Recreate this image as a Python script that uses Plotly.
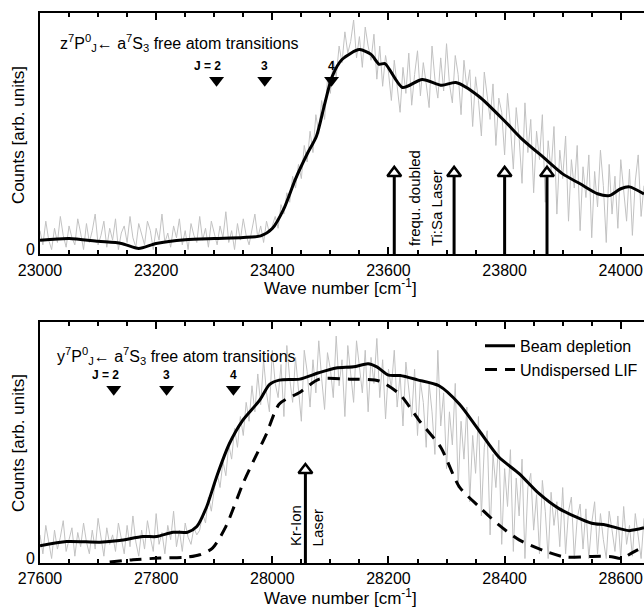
import numpy as np
import plotly.graph_objects as go

# ---------------- data ----------------
# top panel: z7P <- a7S3
top_raw_x = list(range(23000, 24041, 5))
top_raw_y = [8, 2, 12, 4, 0, 9, 3, 14, 6, 1, 10, 5, 2, 13, 7, 0, 11, 3, 8, 15, 2, 6, 12, 1, 9, 4, 13, 0, 7, 10, 3, 14, 5, 1, 11, 6, 2, 12, 8, 0,
             9, 4, 15, 3, 7, 1, 10, 5, 13, 2, 8, 0, 11, 6, 3, 14, 4, 9, 1, 12, 7, 2, 10, 5, 16, 3, 8, 0, 11, 4, 13, 6, 2, 9, 15, 5, 10, 3, 12, 7,
             10, 14, 9, 19, 15, 24, 20, 31, 26, 36, 30, 44, 37, 50, 41, 57, 49, 63, 55, 72,
             66, 80, 73, 86, 79, 92, 83, 88, 97, 81, 90, 77, 94, 86, 80, 91, 72, 86, 69, 82,
             75, 63, 80, 69, 58, 77, 66, 83, 61, 74, 84, 65, 79, 70, 60, 86, 72, 64, 81, 67,
             87, 70, 62, 82, 74, 57, 80, 68, 76, 52, 73, 63, 48, 75, 66, 55, 70, 44, 64, 58,
             40, 66, 52, 34, 60, 47, 28, 62, 41, 55, 24, 50, 38, 57, 20, 46, 33, 52, 15, 42,
             30, 48, 12, 38, 26, 44, 8, 35, 22, 40, 5, 33, 18, 42, 27, 3, 36, 15, 31, 9,
             38, 24, 12, 34, 6, 29, 40, 14, 27]
top_fit_x = [23000, 23050, 23100, 23140, 23170, 23200, 23250, 23300, 23350, 23380, 23400, 23420, 23440, 23460,
             23476, 23490, 23503, 23520, 23550, 23570, 23584, 23594, 23624, 23658, 23692, 23716, 23756, 23802,
             23830, 23870, 23900, 23930, 23960, 23980, 24000, 24015, 24040]
top_fit_y = [3.9, 4.7, 3.5, 2.6, 0.5, 2.6, 4.2, 4.7, 5.1, 5.8, 8.9, 17.3, 29.9, 40.4,
             47.9, 61.4, 73.1, 80.3, 84.5, 82.5, 78.3, 78.6, 68.5, 71.9, 69.4, 70.6, 64.7, 53.8,
             46.7, 38.3, 32, 27.8, 23.6, 22.8, 25.7, 26.5, 23.5]
top_trans_x = [23304, 23387, 23502]
top_trans_labels = ["J = 2", "3", "4"]
top_laser_x = [23610, 23713, 23800, 23873]

# bottom panel: y7P <- a7S3
bot_raw_x = list(range(27600, 28641, 5))
bot_raw_y = [10, 2, 14, 6, 0, 12, 4, 9, 16, 3, 8, 13, 1, 11, 5, 15, 7, 2, 12, 4, 17, 8, 1, 13, 6, 10, 3, 15, 9, 2,
             14, 5, 18, 7, 1, 12, 4, 16, 9, 3, 19, 6, 11, 2, 14, 8, 20, 5, 12, 3, 15, 9, 6, 13, 10,
             12, 19, 15, 26, 20, 29, 36, 30, 41, 35, 48, 42, 55, 47, 60, 52, 66, 58, 73, 62,
             78, 65, 84, 70, 62, 88, 74, 68, 82, 60, 90, 76, 66, 85, 72, 58, 88, 79, 64, 84,
             70, 92, 76, 63, 87, 80, 68, 94, 73, 84, 60, 90, 78, 66, 92, 82, 70, 88, 62, 85,
             74, 93, 68, 84, 59, 80, 72, 88, 64, 78, 56, 83, 70, 60, 80, 52, 75, 66, 47, 74,
             62, 44, 88, 56, 70, 38, 62, 48, 74, 30, 58, 42, 64, 24, 52, 36, 60, 18, 47, 54,
             10, 44, 30, 50, 6, 38, 22, 46, 3, 34, 18, 42, 0, 30, 36, 12, 27, 2, 33, 20,
             0, 28, 14, 24, 5, 30, 2, 20, 26, 0, 17, 23, 4, 21, 0, 15, 24, 2, 19, 8,
             0, 20, 12, 3, 18, 0, 22, 6, 14, 1, 19, 10, 0, 17]
bot_fit_x = [27600, 27646, 27703, 27737, 27777, 27801, 27829, 27854, 27870, 27887, 27904, 27926, 27949, 27978,
             27995, 28012, 28047, 28080, 28110, 28140, 28165, 28180, 28200, 28220, 28250, 28287, 28322, 28356,
             28390, 28425, 28459, 28493, 28550, 28574, 28614, 28640]
bot_fit_y = [5.4, 7.2, 6.9, 7.6, 9.3, 9.3, 11.1, 11.1, 13.5, 21.9, 34.5, 48.5, 58.4, 66.8,
             73.5, 75.4, 75.8, 78.5, 80.5, 81, 82.3, 81, 77.5, 77.3, 75.5, 73, 65.3, 54.1,
             42.9, 35.9, 27.5, 21.2, 14.9, 14.2, 11.8, 13]
bot_lif_x = [27720, 27760, 27806, 27853, 27875, 27897, 27920, 27950, 27975, 27990, 28012, 28047, 28081, 28133,
             28184, 28219, 28253, 28290, 28322, 28356, 28390, 28425, 28471, 28505, 28550, 28584, 28600, 28620, 28640]
bot_lif_y = [-1.5, -0.5, 0.2, 0.6, 1.6, 4.4, 13.5, 32, 45, 52.7, 65.3, 70.2, 75.8, 75.8,
             75, 69.5, 58.3, 47, 30.3, 21.9, 14.2, 7.9, 3, 0.6, 0.9, 0.8, 0, 2.5, 5]
bot_trans_x = [27727, 27818, 27933]
bot_trans_labels = ["J = 2", "3", "4"]
bot_laser_x = [28057]

trans_level = 71.5
label_level = 77.7
top_arrow_head = 32.4
bot_arrow_head = 37.4

FONT = "Liberation Sans, Arial, sans-serif"
W, H = 644, 610
L = 40
PW = W - L
GRAY = "#c2c2c2"
SMOOTH = 0.7

def px_x(p):
    return (p - L) / PW

def px_y(p):
    return (H - p) / H

fig = go.Figure()

# top panel
fig.add_trace(go.Scatter(x=top_raw_x, y=top_raw_y, mode="lines", line=dict(color=GRAY, width=1),
                         showlegend=False, xaxis="x", yaxis="y", hoverinfo="skip"))
fig.add_trace(go.Scatter(x=top_fit_x, y=top_fit_y, mode="lines",
                         line=dict(color="black", width=3, shape="spline", smoothing=SMOOTH),
                         showlegend=False, xaxis="x", yaxis="y"))
fig.add_trace(go.Scatter(x=top_trans_x, y=[trans_level] * len(top_trans_x), mode="markers",
                         marker=dict(symbol="triangle-down", size=13, color="black"),
                         showlegend=False, xaxis="x", yaxis="y"))
for xv in top_laser_x:
    fig.add_trace(go.Scatter(x=[xv, xv], y=[-2, top_arrow_head], mode="lines", line=dict(color="black", width=3),
                             showlegend=False, xaxis="x", yaxis="y"))
fig.add_trace(go.Scatter(x=top_laser_x, y=[top_arrow_head] * len(top_laser_x), mode="markers",
                         marker=dict(symbol="triangle-up", size=12, color="white", line=dict(color="black", width=2.5)),
                         showlegend=False, xaxis="x", yaxis="y"))

# bottom panel
fig.add_trace(go.Scatter(x=bot_raw_x, y=bot_raw_y, mode="lines", line=dict(color=GRAY, width=1),
                         showlegend=False, xaxis="x2", yaxis="y2", hoverinfo="skip"))
fig.add_trace(go.Scatter(x=bot_fit_x, y=bot_fit_y, mode="lines", name="Beam depletion",
                         line=dict(color="black", width=3, shape="spline", smoothing=SMOOTH), xaxis="x2", yaxis="y2"))
fig.add_trace(go.Scatter(x=bot_lif_x, y=bot_lif_y, mode="lines", name="Undispersed LIF",
                         line=dict(color="black", width=3, shape="spline", smoothing=SMOOTH, dash="12px,8px"),
                         xaxis="x2", yaxis="y2"))
fig.add_trace(go.Scatter(x=bot_trans_x, y=[trans_level] * len(bot_trans_x), mode="markers",
                         marker=dict(symbol="triangle-down", size=13, color="black"),
                         showlegend=False, xaxis="x2", yaxis="y2"))
for xv in bot_laser_x:
    fig.add_trace(go.Scatter(x=[xv, xv], y=[-2, bot_arrow_head], mode="lines", line=dict(color="black", width=3),
                             showlegend=False, xaxis="x2", yaxis="y2"))
fig.add_trace(go.Scatter(x=bot_laser_x, y=[bot_arrow_head] * len(bot_laser_x), mode="markers",
                         marker=dict(symbol="triangle-up", size=12, color="white", line=dict(color="black", width=2.5)),
                         showlegend=False, xaxis="x2", yaxis="y2"))

xax = dict(showline=True, linecolor="black", linewidth=2, mirror="ticks", ticks="inside", ticklen=7,
           tickwidth=1.5, tickcolor="black", dtick=200, tickformat="d", showgrid=False, zeroline=False,
           tickfont=dict(family=FONT, size=16, color="black"),
           minor=dict(dtick=50, ticks="inside", ticklen=4, tickwidth=1.5, tickcolor="black", showgrid=False))
yax = dict(showline=True, linecolor="black", linewidth=2, mirror=False, ticks="", tickvals=[0], ticktext=["0"],
           range=[-2, 100], showgrid=False, zeroline=False, fixedrange=True,
           tickfont=dict(family=FONT, size=16, color="black"))

fig.update_layout(
    width=W, height=H, margin=dict(l=L, r=0, t=0, b=0),
    paper_bgcolor="white", plot_bgcolor="white",
    xaxis=dict(xax, domain=[0, 1], range=[23000, 24040], anchor="y"),
    yaxis=dict(yax, domain=[px_y(256), px_y(13)], anchor="x"),
    xaxis2=dict(xax, domain=[0, 1], range=[27600, 28640], anchor="y2"),
    yaxis2=dict(yax, domain=[px_y(567), px_y(324)], anchor="x2"),
    legend=dict(x=px_x(480), y=px_y(331), xanchor="left", yanchor="top", bgcolor="rgba(0,0,0,0)",
                font=dict(family=FONT, size=16, color="black"), tracegroupgap=0, itemwidth=30),
    font=dict(family=FONT, color="black"),
)

ann = []
# titles in panels
ann.append(dict(x=23031, y=87.3, xref="x", yref="y", xanchor="left", yanchor="middle", showarrow=False,
                text="z<sup>7</sup>P<sup>0</sup><sub>J</sub>\u2190 a<sup>7</sup>S<sub>3</sub> free atom transitions",
                font=dict(family=FONT, size=16, color="black")))
ann.append(dict(x=27626, y=85.6, xref="x2", yref="y2", xanchor="left", yanchor="middle", showarrow=False,
                text="y<sup>7</sup>P<sup>0</sup><sub>J</sub>\u2190 a<sup>7</sup>S<sub>3</sub> free atom transitions",
                font=dict(family=FONT, size=16, color="black")))
# transition labels
for xv, t in zip(top_trans_x, top_trans_labels):
    ann.append(dict(x=xv, y=label_level, xref="x", yref="y", xanchor="right" if "J" in t else "center",
                    xshift=6 if "J" in t else 0, yanchor="middle", showarrow=False, text="<b>%s</b>" % t,
                    font=dict(family=FONT, size=12, color="black")))
for xv, t in zip(bot_trans_x, bot_trans_labels):
    ann.append(dict(x=xv, y=label_level, xref="x2", yref="y2", xanchor="right" if "J" in t else "center",
                    xshift=7 if "J" in t else 0, yanchor="middle", showarrow=False, text="<b>%s</b>" % t,
                    font=dict(family=FONT, size=12, color="black")))
# laser labels (rotated)
ann.append(dict(x=23645, y=0.5, xref="x", yref="y", textangle=-90, xanchor="center", yanchor="bottom",
                showarrow=False, text="frequ. doubled", font=dict(family=FONT, size=15, color="black")))
ann.append(dict(x=23683, y=0.5, xref="x", yref="y", textangle=-90, xanchor="center", yanchor="bottom",
                showarrow=False, text="Ti:Sa Laser", font=dict(family=FONT, size=15, color="black")))
ann.append(dict(x=28041, y=4.3, xref="x2", yref="y2", textangle=-90, xanchor="center", yanchor="bottom",
                showarrow=False, text="Kr-Ion", font=dict(family=FONT, size=15, color="black")))
ann.append(dict(x=28077, y=4.3, xref="x2", yref="y2", textangle=-90, xanchor="center", yanchor="bottom",
                showarrow=False, text="Laser", font=dict(family=FONT, size=15, color="black")))
# axis titles
for yc in (289, 601):
    ann.append(dict(x=px_x(340), y=px_y(yc), xref="paper", yref="paper", xanchor="center", yanchor="middle",
                    showarrow=False, text="Wave number [cm<sup>-1</sup>]",
                    font=dict(family=FONT, size=17, color="black")))
for yc in (136, 446):
    ann.append(dict(x=px_x(18), y=px_y(yc), xref="paper", yref="paper", xanchor="center", yanchor="middle",
                    textangle=-90, showarrow=False, text="Counts [arb. units]",
                    font=dict(family=FONT, size=17, color="black")))
fig.update_layout(annotations=ann)

fig.write_html("out.html")
